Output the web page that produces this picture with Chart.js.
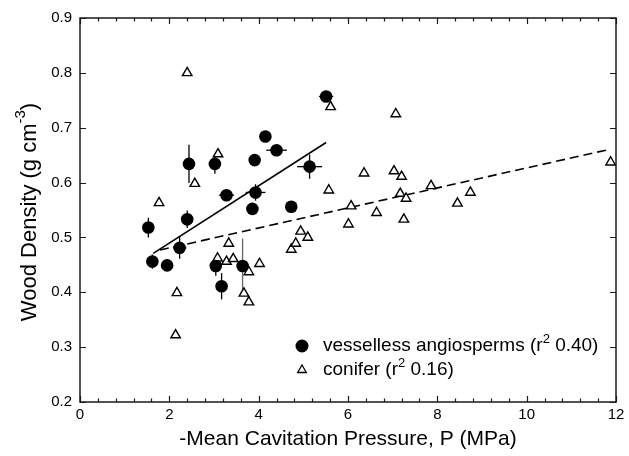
<!DOCTYPE html>
<html>
<head>
<meta charset="utf-8">
<script src="https://cdn.jsdelivr.net/npm/chart.js@4/dist/chart.umd.min.js"></script>
<style>
html,body{margin:0;padding:0;background:#fff;}
#wrap{width:629px;height:456px;}
</style>
</head>
<body>
<div id="wrap"><canvas id="c" width="629" height="456"></canvas></div>
<script>
// ---- data ----
const angioX = [1.53,1.62,1.95,2.23,2.40,2.44,3.02,3.04,3.17,3.28,3.64,3.86,3.91,3.93,4.15,4.40,4.73,5.14,5.51];
const angioY = [0.518,0.456,0.449,0.481,0.533,0.634,0.634,0.448,0.411,0.577,0.448,0.552,0.641,0.582,0.684,0.659,0.556,0.629,0.757];
const angioXErr = [0,0,0,0.15,0,0,0,0,0,0.17,0,0,0,0.22,0,0.23,0,0.28,0.16];
const angioYErr = [0.018,0.013,0,0.02,0.016,0.035,0.018,0.018,0.024,0.01,0.05,0,0,0.015,0,0,0,0.022,0];
const coniferX = [1.77,2.14,2.17,2.40,2.57,3.08,3.09,3.28,3.33,3.43,3.67,3.78,3.78,4.02,4.73,4.83,4.94,5.10,5.57,5.61,6.01,6.07,6.36,6.64,7.03,7.07,7.17,7.20,7.25,7.30,7.86,8.45,8.74,11.88];
const coniferY = [0.563,0.322,0.399,0.800,0.598,0.462,0.652,0.456,0.489,0.461,0.398,0.437,0.382,0.452,0.478,0.489,0.511,0.500,0.586,0.738,0.524,0.557,0.617,0.545,0.621,0.725,0.580,0.611,0.533,0.571,0.594,0.562,0.582,0.637];
const angioFitX = [1.64,5.51];
const angioFitY = [0.471,0.673];
const coniferFitX = [1.79,11.88];
const coniferFitY = [0.477,0.661];
const xTicks = [0,2,4,6,8,10,12];
const xMinorStep = 0.4;
const yTicks = [0.2,0.3,0.4,0.5,0.6,0.7,0.8,0.9];
const legendLabels = [
  ['vesselless angiosperms (r', '2', ' 0.40)'],
  ['conifer (r', '2', ' 0.16)']
];
const xTitle = '-Mean Cavitation Pressure, P (MPa)';
const yTitleParts = ['Wood Density (g cm', '-3', ')'];

const FONT = '"Liberation Sans", Arial, Helvetica, sans-serif';
const toPts = (xs, ys) => xs.map((x, i) => ({x: x, y: ys[i]}));

const framePlugin = {
  id: 'frame',
  beforeDatasetsDraw(chart) {
    const {ctx, scales: {x, y}} = chart;
    ctx.save();
    ctx.lineWidth = 1.3;
    for (let i = 0; i < angioX.length; i++) {
      const px = x.getPixelForValue(angioX[i]);
      const py = y.getPixelForValue(angioY[i]);
      ctx.strokeStyle = (i === 10) ? '#666' : '#000';
      if (angioYErr[i] > 0) {
        ctx.beginPath();
        ctx.moveTo(px, y.getPixelForValue(angioY[i] - angioYErr[i]));
        ctx.lineTo(px, y.getPixelForValue(angioY[i] + angioYErr[i]));
        ctx.stroke();
      }
      if (angioXErr[i] > 0) {
        ctx.beginPath();
        ctx.moveTo(x.getPixelForValue(angioX[i] - angioXErr[i]), py);
        ctx.lineTo(x.getPixelForValue(angioX[i] + angioXErr[i]), py);
        ctx.stroke();
      }
    }
    ctx.restore();
  },
  afterDraw(chart) {
    const {ctx, chartArea: a, scales: {x, y}} = chart;
    ctx.save();
    ctx.strokeStyle = '#1a1a1a';
    ctx.lineWidth = 1.5;
    ctx.strokeRect(a.left, a.top, a.right - a.left, a.bottom - a.top);
    ctx.lineWidth = 1.2;
    ctx.beginPath();
    const nMinor = Math.round((xTicks[xTicks.length-1] - xTicks[0]) / xMinorStep);
    for (let k = 0; k <= nMinor; k++) {
      const v = xTicks[0] + k * xMinorStep;
      const px = Math.round(x.getPixelForValue(v)) + 0.5;
      const isMajor = xTicks.some(t => Math.abs(t - v) < 1e-6);
      const len = isMajor ? 6 : 3.5;
      ctx.moveTo(px, a.bottom); ctx.lineTo(px, a.bottom - len);
      ctx.moveTo(px, a.top); ctx.lineTo(px, a.top + len);
    }
    yTicks.forEach(v => {
      const py = Math.round(y.getPixelForValue(v)) + 0.5;
      ctx.moveTo(a.left, py); ctx.lineTo(a.left + 6, py);
      ctx.moveTo(a.right, py); ctx.lineTo(a.right - 6, py);
    });
    ctx.stroke();

    // y title with superscript
    ctx.fillStyle = '#000';
    ctx.translate(30, (a.top + a.bottom) / 2 + 2);
    ctx.rotate(-Math.PI / 2);
    const big = '22px ' + FONT, small = '15px ' + FONT;
    ctx.font = big;
    const w0 = ctx.measureText(yTitleParts[0]).width;
    const w2 = ctx.measureText(yTitleParts[2]).width;
    ctx.font = small;
    const w1 = ctx.measureText(yTitleParts[1]).width;
    let sx = -(w0 + w1 + w2) / 2;
    ctx.textBaseline = 'middle';
    ctx.textAlign = 'left';
    ctx.font = big; ctx.fillText(yTitleParts[0], sx, 0); sx += w0;
    ctx.font = small; ctx.fillText(yTitleParts[1], sx, -9); sx += w1;
    ctx.font = big; ctx.fillText(yTitleParts[2], sx, 0);
    ctx.setTransform(1, 0, 0, 1, 0, 0);

    // legend
    const lx = a.left + 222, ly = a.top + 328, dy = 24;
    legendLabels.forEach((parts, i) => {
      const cy = ly + i * dy;
      ctx.beginPath();
      if (i === 0) {
        ctx.fillStyle = '#000';
        ctx.arc(lx, cy, 6.5, 0, Math.PI * 2);
        ctx.fill();
      } else {
        const r = 5;
        ctx.fillStyle = '#fff';
        ctx.strokeStyle = '#000';
        ctx.lineWidth = 1.3;
        ctx.moveTo(lx, cy - r);
        ctx.lineTo(lx + r * Math.sin(2*Math.PI/3), cy + r / 2);
        ctx.lineTo(lx - r * Math.sin(2*Math.PI/3), cy + r / 2);
        ctx.closePath();
        ctx.fill(); ctx.stroke();
      }
      ctx.fillStyle = '#000';
      ctx.textBaseline = 'middle';
      ctx.textAlign = 'left';
      let tx = lx + 21;
      const lb = '19px ' + FONT, ls = '13px ' + FONT;
      ctx.font = lb; ctx.fillText(parts[0], tx, cy); tx += ctx.measureText(parts[0]).width;
      ctx.font = ls; ctx.fillText(parts[1], tx, cy - 7); tx += ctx.measureText(parts[1]).width;
      ctx.font = lb; ctx.fillText(parts[2], tx, cy);
    });
    ctx.restore();
  }
};

new Chart(document.getElementById('c'), {
  type: 'scatter',
  data: {
    datasets: [
      {
        type: 'line', data: toPts(angioFitX, angioFitY), borderColor: '#000',
        borderWidth: 1.6, pointRadius: 0, fill: false, order: 3
      },
      {
        type: 'line', data: toPts(coniferFitX, coniferFitY), borderColor: '#000',
        borderWidth: 1.6, borderDash: [9, 5], pointRadius: 0, fill: false, order: 3
      },
      {
        label: 'conifer', data: toPts(coniferX, coniferY), pointStyle: 'triangle',
        pointRadius: 5.5, pointBackgroundColor: '#fff', pointBorderColor: '#000',
        pointBorderWidth: 1.4, order: 2
      },
      {
        label: 'vesselless angiosperms', data: toPts(angioX, angioY), pointStyle: 'circle',
        pointRadius: 6.3, pointBackgroundColor: '#000', pointBorderColor: '#000',
        pointBorderWidth: 0, order: 1
      }
    ]
  },
  options: {
    responsive: false,
    animation: false,
    events: [],
    layout: {padding: {top: 18, right: 13, left: 0, bottom: 0}},
    plugins: {legend: {display: false}, tooltip: {enabled: false}},
    scales: {
      x: {
        type: 'linear', min: 0, max: 12,
        afterBuildTicks: s => { s.ticks = xTicks.map(v => ({value: v})); },
        afterFit: s => { s.height = 54; },
        grid: {display: false, drawTicks: false},
        border: {display: false},
        ticks: {color: '#000', padding: 4, font: {family: FONT, size: 15}, callback: v => String(v)},
        title: {display: true, text: xTitle, color: '#000', font: {family: FONT, size: 21}, padding: {top: 0, bottom: 4}}
      },
      y: {
        type: 'linear', min: 0.2, max: 0.9,
        afterBuildTicks: s => { s.ticks = yTicks.map(v => ({value: v})); },
        afterFit: s => { s.width = 80; },
        grid: {display: false, drawTicks: false},
        border: {display: false},
        ticks: {color: '#000', padding: 8, font: {family: FONT, size: 15}, callback: v => Number(v).toFixed(1)}
      }
    }
  },
  plugins: [framePlugin]
});
</script>
</body>
</html>
